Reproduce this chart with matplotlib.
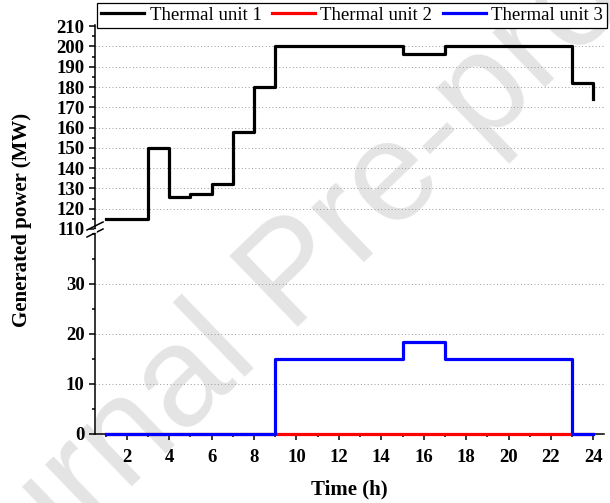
import numpy as np
import matplotlib.pyplot as plt
from matplotlib.ticker import MultipleLocator

# hourly dispatch
hours = np.arange(1, 25)
unit1 = [115, 115, 150, 126, 127.5, 132, 158, 180, 200, 200, 200, 200,
         200, 200, 196.5, 196.5, 200, 200, 200, 200, 200, 200, 182, 174]
unit2 = [0] * 24
unit3 = [0, 0, 0, 0, 0, 0, 0, 0, 15, 15, 15, 15,
         15, 15, 18.5, 18.5, 15, 15, 15, 15, 15, 15, 0, 0]
names = ['Thermal unit 1', 'Thermal unit 2', 'Thermal unit 3']
colors = ['black', 'red', 'blue']

plt.rcParams['font.family'] = ['Liberation Serif', 'DejaVu Serif']

W, H = 610, 503
fig = plt.figure(figsize=(W / 100, H / 100), dpi=100)
x0, x1 = 95 / W, 604 / W
ytop, ymid, ybot = 25, 229, 434
ax_top = fig.add_axes([x0, 1 - ymid / H, x1 - x0, (ymid - ytop) / H])
ax_bot = fig.add_axes([x0, 1 - ybot / H, x1 - x0, (ybot - ymid) / H])

# watermark
fig.text(295 / W, 1 - 278 / H, 'Journal Pre-proof', fontsize=102, color='#e4e4e4',
         rotation=44, ha='center', va='center', family='Liberation Sans',
         rotation_mode='anchor', zorder=-5)

lw = 2.3
handles = []
for ax in (ax_top, ax_bot):
    ax.patch.set_alpha(0)
    for vals, c, n in zip([unit1, unit2, unit3], colors, names):
        h, = ax.plot(hours, vals, drawstyle='steps-post', color=c, lw=lw,
                     label=n, clip_on=(ax is ax_top), zorder=3)
        if ax is ax_top:
            handles.append(h)
    ax.set_xlim(0.5, 24.5)
    for s in ('top', 'right'):
        ax.spines[s].set_visible(False)
    ax.spines['left'].set_linewidth(1.1)
    ax.spines['bottom'].set_linewidth(1.1)
    ax.yaxis.grid(True, which='major', linestyle=(0, (1, 2.5)), color='#999999', lw=0.7)
    ax.tick_params(axis='both', which='major', direction='out', length=4.5, width=1.1,
                   labelsize=13.5, pad=3)
    ax.tick_params(axis='both', which='minor', direction='out', length=2.4, width=1.1)

ax_top.set_ylim(110, 210.6)
ax_top.set_yticks(np.arange(110, 211, 10))
ax_top.yaxis.set_minor_locator(MultipleLocator(5))
ax_top.spines['bottom'].set_visible(False)
ax_top.tick_params(axis='x', which='both', bottom=False, labelbottom=False)

ax_bot.set_ylim(0, 41)
ax_bot.set_yticks([0, 10, 20, 30])
ax_bot.yaxis.set_minor_locator(MultipleLocator(5))
ax_bot.set_xticks(np.arange(2, 25, 2))
ax_bot.xaxis.set_minor_locator(MultipleLocator(1))
ax_bot.tick_params(axis='x', which='major', pad=6)

for ax in (ax_top, ax_bot):
    for lab in ax.get_yticklabels() + ax.get_xticklabels():
        lab.set_fontweight('bold')

# axis break marks on the left spine
for dy in (-3, 4):
    fig.add_artist(plt.Line2D([(x0 * W - 8) / W, (x0 * W + 8) / W],
                              [1 - (ymid + dy + 4) / H, 1 - (ymid + dy - 4) / H],
                              color='black', lw=1.1))
fig.add_artist(plt.Line2D([x0, x0], [1 - (ymid + 1) / H, 1 - (ymid + 2) / H],
                          color='white', lw=2))

ax_bot.set_xlabel('Time (h)', fontsize=15, fontweight='bold', labelpad=10)
fig.text(22 / W, 1 - 220 / H, 'Generated power (MW)', fontsize=15,
         fontweight='bold', rotation=90, ha='center', va='center')

leg = fig.legend(handles=handles, loc='upper left', ncol=3,
                 bbox_to_anchor=(97 / W, 1 - 3 / H), borderaxespad=0,
                 fontsize=13.5, frameon=True, fancybox=False, framealpha=1,
                 edgecolor='black', handlelength=2.3, handletextpad=0.3,
                 columnspacing=0.55, borderpad=0.2)
leg.get_frame().set_linewidth(0.9)

fig.savefig('out.png', dpi=100)
